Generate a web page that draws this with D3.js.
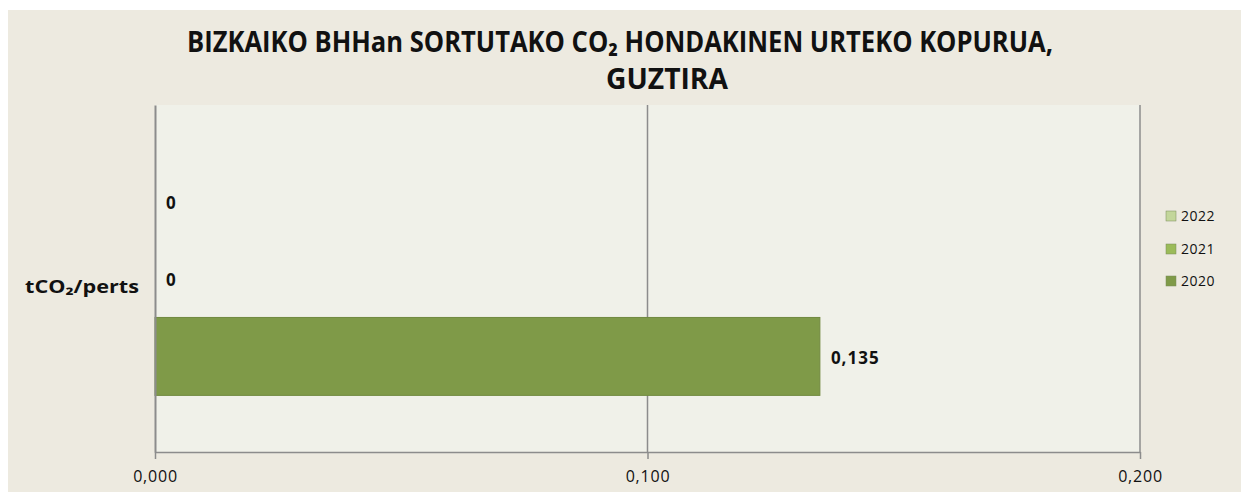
<!DOCTYPE html>
<html>
<head>
<meta charset="utf-8">
<script src="https://cdn.jsdelivr.net/npm/d3@7"></script>
<style>
  body { margin: 0; background: #fff; }
  text { font-family: "Open Sans", "Noto Sans", "DejaVu Sans", sans-serif; fill: #111; }
</style>
</head>
<body>
<div id="chart"></div>
<script>
// data
const categories = ["tCO₂/perts"];
const years = ["2022", "2021", "2020"];
const values = [0, 0, 0.135];
const xTicks = [0, 0.1, 0.2];
const colors = ["#c3d69b", "#9bbb59", "#7f9a48"];
const titleLines = ["BIZKAIKO BHHan SORTUTAKO CO₂ HONDAKINEN URTEKO KOPURUA,", "GUZTIRA"];

const W = 1241, H = 492;
const plot = {left: 155, right: 1140, top: 105, bottom: 452};
const fmt = d => d3.format(".3f")(d).replace(".", ",");

const svg = d3.select("#chart").append("svg")
    .attr("width", W).attr("height", H);

// chart area background
svg.append("rect")
    .attr("x", 8).attr("y", 10)
    .attr("width", W - 8).attr("height", H - 10)
    .attr("fill", "#edeae0");

svg.append("rect")
    .attr("x", plot.left).attr("y", plot.top)
    .attr("width", plot.right - plot.left).attr("height", plot.bottom - plot.top)
    .attr("fill", "#f0f1e9");

// title
const title = svg.append("g").attr("font-weight", "bold").attr("font-size", 29);
title.append("text")
    .attr("x", 187).attr("y", 52)
    .attr("textLength", 866).attr("lengthAdjust", "spacingAndGlyphs")
    .text(titleLines[0]);
title.append("text")
    .attr("x", 667).attr("y", 89)
    .attr("text-anchor", "middle")
    .attr("textLength", 122).attr("lengthAdjust", "spacingAndGlyphs")
    .text(titleLines[1]);

// scales
const x = d3.scaleLinear().domain([0, 0.2]).range([plot.left, plot.right]);
const y0 = d3.scaleBand().domain(categories).range([plot.top, plot.bottom]).padding(0.195);
const y1 = d3.scaleBand().domain(years).range([0, y0.bandwidth()]);

// gridlines
svg.append("g").selectAll("line")
  .data(xTicks.slice(1))
  .join("line")
    .attr("x1", d => x(d)).attr("x2", d => x(d))
    .attr("y1", plot.top).attr("y2", plot.bottom)
    .attr("stroke", "#8c8c8c").attr("stroke-width", 1.5);

// bars
const g = svg.append("g").attr("transform", `translate(0,${y0(categories[0])})`);
g.selectAll("rect")
  .data(values)
  .join("rect")
    .attr("x", x(0))
    .attr("y", (d, i) => y1(years[i]))
    .attr("width", d => x(d) - x(0))
    .attr("height", y1.bandwidth())
    .attr("fill", (d, i) => colors[i])
    .attr("stroke", "#70893f").attr("stroke-width", d => d > 0 ? 1 : 0);

g.selectAll("text.val")
  .data(values)
  .join("text")
    .attr("class", "val")
    .attr("x", d => x(d) + 11)
    .attr("y", (d, i) => y1(years[i]) + y1.bandwidth() / 2 + 8)
    .attr("font-size", 17).attr("font-weight", "bold")
    .attr("letter-spacing", 1)
    .text(d => d === 0 ? "0" : fmt(d));

// axes
const xAxis = d3.axisBottom(x).tickValues(xTicks).tickFormat(fmt).tickSize(7).tickSizeOuter(0);
const ax = svg.append("g")
    .attr("transform", `translate(0,${plot.bottom})`)
    .call(xAxis);
ax.select(".domain").attr("stroke", "#8c8c8c").attr("stroke-width", 1.5);
ax.selectAll(".tick line").attr("stroke", "#8c8c8c").attr("stroke-width", 1.5);
ax.selectAll(".tick text")
    .attr("y", 19)
    .attr("font-size", 16).attr("font-family", "Open Sans")
    .attr("letter-spacing", 0.8)
    .attr("fill", "#1a1a1a");

const yAxis = d3.axisLeft(y0).tickSize(0).tickFormat("");
const ay = svg.append("g")
    .attr("transform", `translate(${plot.left},0)`)
    .call(yAxis);
ay.select(".domain").attr("stroke", "#8c8c8c").attr("stroke-width", 2);

// category label
svg.append("text")
    .attr("x", 25)
    .attr("y", 293)
    .attr("font-size", 18).attr("font-weight", "bold")
    .attr("textLength", 114).attr("lengthAdjust", "spacingAndGlyphs")
    .text(categories[0]);

// legend
const leg = svg.append("g").attr("transform", "translate(1166,0)");
const legY = [216, 249, 281];
years.forEach((yr, i) => {
  leg.append("rect")
    .attr("x", 0).attr("y", legY[i] - 5)
    .attr("width", 10).attr("height", 10)
    .attr("fill", colors[i]).attr("stroke", "#7a8a5a").attr("stroke-width", 0.5);
  leg.append("text")
    .attr("x", 15).attr("y", legY[i] + 5)
    .attr("font-size", 14).attr("fill", "#222")
    .attr("letter-spacing", 0.5)
    .text(yr);
});
</script>
</body>
</html>
